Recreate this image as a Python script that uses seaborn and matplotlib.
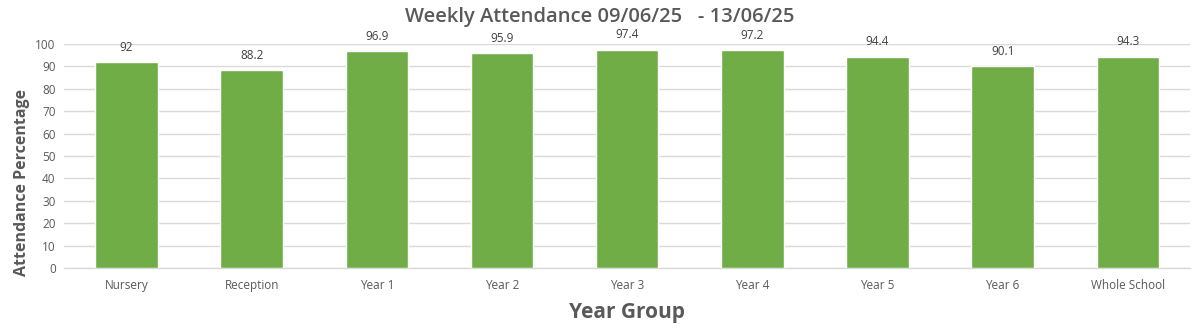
import matplotlib
matplotlib.use("Agg")
import matplotlib.pyplot as plt
import seaborn as sns
import pandas as pd

categories = ["Nursery", "Reception", "Year 1", "Year 2", "Year 3", "Year 4", "Year 5", "Year 6", "Whole School"]
attendance = [92, 88.2, 96.9, 95.9, 97.4, 97.2, 94.4, 90.1, 94.3]
value_labels = ["92", "88.2", "96.9", "95.9", "97.4", "97.2", "94.4", "90.1", "94.3"]
y_ticks = [0, 10, 20, 30, 40, 50, 60, 70, 80, 90, 100]

sns.set_theme(style="white")
plt.rcParams["font.family"] = ["Open Sans", "DejaVu Sans"]

df = pd.DataFrame({"Year Group": categories, "Attendance": attendance})

fig = plt.figure(figsize=(12, 3.36), dpi=100)
ax = fig.add_axes([0.0533, 0.2024, 0.9387, 0.6667])

sns.barplot(data=df, x="Year Group", y="Attendance", color="#70AD47",
            saturation=1, width=0.5, ax=ax, zorder=3)

ax.set_ylim(0, 100)
ax.set_yticks(y_ticks)
ax.set_xlim(-0.5, len(categories) - 0.5)
ax.yaxis.grid(True, color="#D9D9D9", linewidth=1, zorder=0)
for s in ["top", "right", "left"]:
    ax.spines[s].set_visible(False)
ax.spines["bottom"].set_color("#D9D9D9")
ax.spines["bottom"].set_linewidth(1)
ax.tick_params(axis="both", length=0, labelsize=8.5, labelcolor="#595959")
ax.tick_params(axis="x", pad=8)
ax.tick_params(axis="y", pad=6)

for i, (v, lab) in enumerate(zip(attendance, value_labels)):
    ax.annotate(lab, xy=(i, v), xytext=(0, 6), textcoords="offset points",
                ha="center", va="bottom", fontsize=8.5, color="#404040")

ax.set_xlabel("Year Group", fontsize=15, fontweight="bold", color="#595959", labelpad=7)
ax.set_ylabel("Attendance Percentage", fontsize=11.5, fontweight="bold", color="#595959")
ax.yaxis.set_label_coords(-0.03, 0.38)
fig.text(0.5, 0.948, "Weekly Attendance 09/06/25   - 13/06/25", ha="center", va="center",
         fontsize=14.5, fontweight="semibold", color="#595959")

fig.savefig("out.png", dpi=100, facecolor="white")
